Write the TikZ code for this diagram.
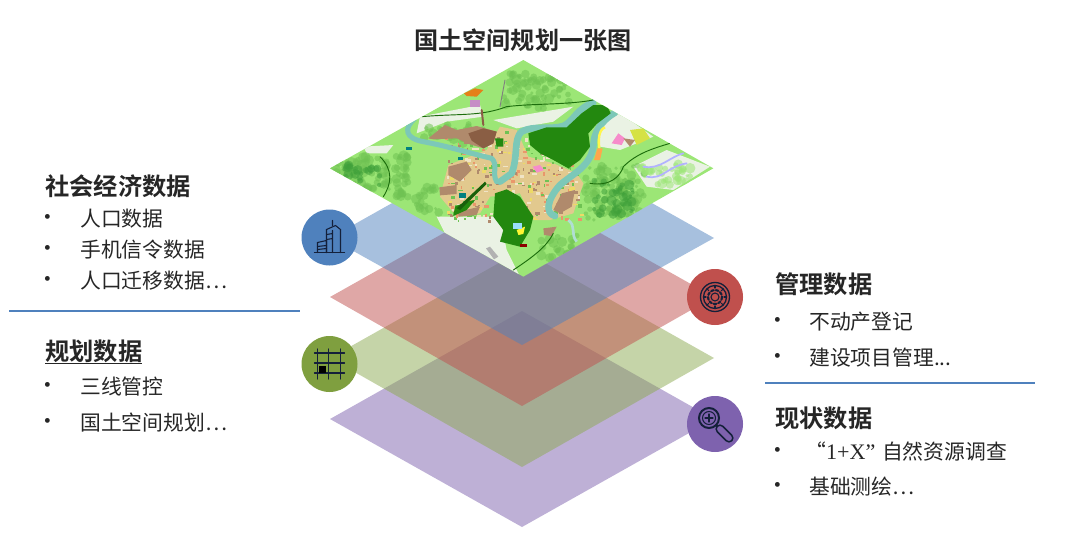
\documentclass[tikz,border=0pt]{standalone}
\usepackage{fontspec}
\setmainfont{Noto Sans CJK SC}[BoldFont={* Bold}]
\newfontfamily\latinserif{Liberation Serif}
\definecolor{txt}{HTML}{262626}
\definecolor{lblue}{HTML}{4F81BD}
\definecolor{lred}{HTML}{C0504D}
\definecolor{lgreen}{HTML}{7F9F3F}
\definecolor{lpurple}{HTML}{7E62AE}
\definecolor{mapbase}{HTML}{9CE676}
\definecolor{river}{HTML}{7CC8B8}
\definecolor{forest}{HTML}{23880F}
\definecolor{brownA}{HTML}{B08A6C}
\definecolor{brownB}{HTML}{8A5E44}
\definecolor{urban}{HTML}{E2C98E}
\definecolor{pale}{HTML}{EAF2E4}
\definecolor{midgreen}{HTML}{6FC253}
\definecolor{deepgreen}{HTML}{3FA03A}
\definecolor{icn}{HTML}{14203A}
\newcommand{\mapblobs}[6]{%
  \foreach \i in {1,...,#5}{%
    \pgfmathsetmacro\px{#1+(2*rnd-1)*#3}%
    \pgfmathsetmacro\py{#2+(2*rnd-1)*#4}%
    \pgfmathsetmacro\pr{5+rnd*11}%
    \fill[#6,opacity=.55] (\px,\py) circle (\pr);
  }%
}
\tikzset{
  layer/.style={fill=#1,fill opacity=.5,draw=none},
  badge/.style={circle,minimum size=21pt*2,inner sep=0pt,fill=#1,draw=none},
  heading/.style={anchor=west,inner sep=0pt,font=\fontsize{18.2}{20}\selectfont\bfseries,text=txt},
  body/.style={anchor=west,inner sep=0pt,font=\fontsize{15.6}{18}\selectfont,text=txt},
  dot/.style={anchor=center,inner sep=0pt,font=\fontsize{17}{19}\selectfont,text=txt},
  rule/.style={draw=#1,line width=1.1pt},
  rivline/.style={draw=river,line width=3.8pt,line cap=round,line join=round},
  road/.style={draw=#1,line width=.7pt,line cap=round},
  icon/.style={draw=icn,line width=.8pt,line cap=round}
}
\begin{document}
\begin{tikzpicture}[x=.75pt,y=-.75pt]
\useasboundingbox (0,0) rectangle (1080,535);
% stacked layers
\fill[layer=lpurple] (522,311) -- (714,419) -- (522,527) -- (330,419) -- cycle;
\fill[layer=lgreen!90!white] (522,250) -- (714,358) -- (522,467) -- (330,358) -- cycle;
\fill[layer=lred] (522,189) -- (714,297) -- (522,406) -- (330,297) -- cycle;
\fill[layer=lblue] (522,130) -- (714,238) -- (522,345) -- (330,238) -- cycle;
% map
\begin{scope}[shift={(320,50)},x=.25pt,y=-.25pt]
\clip (610,30) -- (1180,355) -- (610,680) -- (30,355) -- cycle;
\fill[mapbase] (0,0) rectangle (1200,700);
% pale zones
\fill[pale] (350,500) -- (540,500) -- (560,600) -- (600,680) -- (500,620) -- (380,560) -- cycle;
\fill[pale] (940,350) -- (1040,300) -- (1170,350) -- (1060,420) -- (980,410) -- cycle;
\fill[pale] (300,200) -- (480,165) -- (490,200) -- (380,215) -- (290,250) -- cycle;
\fill[pale] (520,210) -- (760,170) -- (700,215) -- (590,235) -- cycle;
\fill[pale] (840,220) -- (900,190) -- (1000,260) -- (900,300) -- (840,290) -- cycle;
\fill[pale] (130,290) -- (220,285) -- (200,310) -- (140,310) -- cycle;
% mottled vegetation
\pgfmathsetseed{911}
\mapblobs{125}{370}{85}{50}{70}{midgreen}
\mapblobs{120}{375}{60}{30}{25}{deepgreen}
\mapblobs{245}{380}{20}{65}{35}{midgreen}
\mapblobs{885}{430}{90}{85}{110}{midgreen}
\mapblobs{880}{440}{60}{60}{45}{deepgreen}
\mapblobs{650}{120}{100}{55}{70}{midgreen}
\mapblobs{400}{250}{90}{30}{25}{midgreen}
\mapblobs{1040}{370}{80}{35}{40}{mapbase}
\mapblobs{720}{590}{60}{40}{25}{midgreen}
\mapblobs{320}{450}{40}{40}{20}{midgreen}
% urban core
\fill[urban] (385,345) -- (500,300) -- (540,230) -- (590,240) -- (625,320) -- (700,340) -- (770,370) -- (790,400) -- (760,490) -- (690,510) -- (640,510) -- (600,430) -- (510,440) -- (480,490) -- (410,500) -- (360,440) -- cycle;
\pgfmathsetseed{4217}
\foreach \i in {1,...,340}{
  \pgfmathsetmacro\px{370+rnd*410}
  \pgfmathsetmacro\py{240+rnd*270}
  \pgfmathsetmacro\pw{4+rnd*10}
  \pgfmathsetmacro\ph{3+rnd*8}
  \pgfmathtruncatemacro\pc{int(rnd*5)}
  \ifcase\pc\def\cc{brownA}\or\def\cc{urban!50!white}\or\def\cc{midgreen}\or\def\cc{red!25!urban}\or\def\cc{yellow!35!urban}\fi
  \fill[\cc] (\px,\py) rectangle ++(\pw,\ph);
}
% brown land
\fill[brownA] (325,265) -- (375,225) -- (410,240) -- (470,228) -- (530,245) -- (520,280) -- (490,295) -- (440,280) -- (410,265) -- (340,268) -- cycle;
\fill[brownB] (445,250) -- (490,235) -- (530,245) -- (520,280) -- (490,295) -- (455,272) -- cycle;
\fill[brownA] (385,350) -- (440,335) -- (455,360) -- (420,395) -- (385,375) -- cycle;
\fill[brownA] (358,412) -- (410,405) -- (410,432) -- (360,436) -- cycle;
\fill[brownA] (725,430) -- (765,420) -- (755,470) -- (720,490) -- (700,480) -- cycle;
\fill[brownA] (670,535) -- (710,530) -- (695,558) -- (672,555) -- cycle;
\fill[brownA] (415,485) -- (480,470) -- (470,495) -- (415,500) -- cycle;
% rivers
\draw[rivline,line width=5pt] (820,158) .. controls (770,175) and (760,215) .. (730,228) .. controls (690,240) and (640,225) .. (605,245) .. controls (580,265) and (595,320) .. (575,370) -- (540,395);
\draw[rivline,line width=5pt] (885,188) .. controls (840,215) and (820,250) .. (820,290) .. controls (810,350) and (760,370) .. (720,405) .. controls (680,450) and (675,490) .. (705,498);
\draw[rivline] (285,205) .. controls (250,235) and (255,265) .. (310,275) .. controls (390,290) and (450,310) .. (515,325) .. controls (535,345) and (515,370) .. (530,395);
\draw[river!60!white,line width=2pt] (745,510) .. controls (770,530) and (750,550) .. (770,575);
% forests
\fill[forest] (625,250) -- (680,232) -- (740,232) -- (785,190) -- (820,165) -- (860,165) -- (872,190) -- (830,222) -- (805,250) -- (810,290) -- (780,330) -- (745,355) -- (700,330) -- (660,310) -- (630,285) -- cycle;
\fill[forest] (525,430) -- (560,418) -- (600,440) -- (640,500) -- (630,540) -- (600,590) -- (540,575) -- (550,540) -- (520,500) -- cycle;
\fill[forest] (525,265) -- (550,265) -- (550,290) -- (530,290) -- cycle;
\fill[forest] (405,470) -- (440,455) -- (465,450) -- (440,480) -- (400,498) -- cycle;
\fill[forest!70!black] (410,475) -- (495,395) -- (500,402) -- (420,480) -- cycle;
% accent patches
\fill[magenta!45!white] (875,280) -- (895,250) -- (915,265) -- (905,285) -- cycle;
\fill[magenta!45!white] (638,350) -- (660,345) -- (672,360) -- (650,368) -- cycle;
\fill[violet!45!white] (450,150) rectangle (480,172);
\draw[yellow!70!white,line width=1.8pt] (855,232) .. controls (835,240) and (835,270) .. (838,295);
\fill[orange!70!white] (832,295) -- (848,295) -- (840,330) -- (822,330) -- cycle;
\fill[yellow!55!mapbase] (930,240) -- (970,235) -- (990,265) -- (950,285) -- cycle;
\fill[brownA] (910,265) -- (945,270) -- (930,290) -- cycle;
\fill[orange!60!brown] (432,130) -- (465,115) -- (490,120) -- (470,140) -- (440,138) -- cycle;
\fill[yellow!80!white] (590,540) -- (615,530) -- (610,552) -- (595,555) -- cycle;
\fill[cyan!40!white] (580,520) rectangle (605,538);
\fill[red!55!black] (600,582) rectangle (620,592);
\fill[gray!60] (498,595) -- (510,590) -- (535,620) -- (522,628) -- cycle;
\fill[teal] (415,320) rectangle (430,330);
\fill[teal] (418,430) rectangle (438,444);
\fill[teal] (258,292) rectangle (276,300);
% roads
\draw[road=forest!80!black] (305,200) .. controls (420,190) and (480,200) .. (560,170) .. controls (640,160) and (740,165) .. (820,150);
\draw[road=forest!80!black] (180,320) .. controls (220,360) and (215,400) .. (190,440);
\draw[road=forest!80!black] (810,400) .. controls (870,410) and (900,380) .. (910,350) .. controls (950,310) and (1000,295) .. (1050,280);
\draw[road=forest!80!black] (580,660) .. controls (640,620) and (680,590) .. (700,550);
\draw[road=gray] (540,170) -- (555,90);
\draw[road=brownB,line width=1.5pt] (485,180) -- (490,225);
\draw[road=blue!30!white,line width=1.3pt] (970,350) .. controls (1020,360) and (1050,320) .. (1090,310);
\draw[road=blue!30!white,line width=1.3pt] (980,380) .. controls (1030,390) and (1040,350) .. (1100,340);
\end{scope}
% title
\node[inner sep=0pt,font=\fontsize{18.1}{20}\selectfont\bfseries,text=txt] (title) at (523,40) {国土空间规划一张图};
% badges
\node[badge=lblue] (bA) at (329.5,237.5) {};
\node[badge=lgreen] (bB) at (329.5,364) {};
\node[badge=lred] (bC) at (715,297) {};
\node[badge=lpurple] (bD) at (715,424) {};
% building icon
\begin{scope}[shift={(bA.center)}]
\draw[icon] (-15,15) -- (15,15);
\draw[icon] (-12,15) -- (-12,5) -- (-3,3) -- (-3,15);
\draw[icon] (-3,15) -- (-3,-8) -- (6,-12) -- (11,-8) -- (11,15);
\draw[icon] (3,-12) -- (3,-17) (3,15) -- (3,-7) (-3,-3) -- (3,-4) (-3,2) -- (3,1) (-12,9) -- (-3,8) (-12,12) -- (-3,11);
\end{scope}
% grid icon
\begin{scope}[shift={(bB.center)}]
\draw[icon] (-15,-11) -- (15,-11) (-15,-1) -- (15,-1) (-15,9) -- (15,9);
\draw[icon] (-12,-15) -- (-12,15) (-1,-15) -- (-1,15) (11,-15) -- (11,15);
\fill[black] (-11,2) rectangle (-4,9);
\end{scope}
% wheel icon
\begin{scope}[shift={(bC.center)}]
\draw[icon,line width=1pt] (0,0) circle (14.5) circle (11.5);
\draw[icon] (0,0) circle (4);
\draw[icon,dash pattern=on 2pt off 1.6pt,line width=1.6pt] (0,0) circle (7);
\foreach \a in {0,45,...,315}{\draw[icon] (\a:11.5) -- (\a:9);}
\end{scope}
% magnifier icon
\begin{scope}[shift={(bD.center)}]
\draw[icon,line width=1.5pt] (-6,-6) circle (10);
\draw[icon] (-6,-6) circle (6.5);
\draw[icon] (-10,-6) -- (-2,-6) (-6,-10) -- (-6,-2);
\draw[icon,line width=1.5pt] (1,1) -- (5,5);
\draw[icon,line width=7pt] (5,5) -- (14,14);
\draw[draw=lpurple,line width=4.4pt,line cap=round] (5,5) -- (14,14);
\end{scope}
% left texts
\node[heading] (h1) at (45,186) {社会经济数据};
\node[dot] (d1) at (48,220) {•};
\node[body] (t1) at (80,219) {人口数据};
\node[dot] (d2) at (48,251) {•};
\node[body] (t2) at (80,250) {手机信令数据};
\node[dot] (d3) at (48,282) {•};
\node[body] (t3) at (80,281) {人口迁移数据…};
\coordinate (la) at (9,311);
\coordinate (lb) at (300,311);
\draw[rule=lblue] (la) -- (lb);
\node[heading] (h2) at (45,351) {规划数据};
\coordinate (ua) at (45,363.5);
\coordinate (ub) at (142,363.5);
\draw[txt,line width=1pt] (ua) -- (ub);
\node[dot] (d4) at (48,388) {•};
\node[body] (t4) at (80,387) {三线管控};
\node[dot] (d5) at (48,424) {•};
\node[body] (t5) at (80,423) {国土空间规划…};
% right texts
\node[heading] (h3) at (775,284) {管理数据};
\node[dot] (d6) at (778,323) {•};
\node[body] (t6) at (809,322) {不动产登记};
\node[dot] (d7) at (778,359) {•};
\node[body] (t7) at (809,358) {建设项目管理...};
\coordinate (ra) at (765,383);
\coordinate (rb) at (1035,383);
\draw[rule=lblue] (ra) -- (rb);
\node[heading] (h4) at (775,418) {现状数据};
\node[dot] (d8) at (778,453) {•};
\node[body] (t8) at (805,452) {“{\latinserif\fontsize{16.6}{18}\selectfont 1+X”}\hspace{5pt}自然资源调查};
\node[dot] (d9) at (778,488) {•};
\node[body] (t9) at (809,487) {基础测绘…};
\end{tikzpicture}
\end{document}
